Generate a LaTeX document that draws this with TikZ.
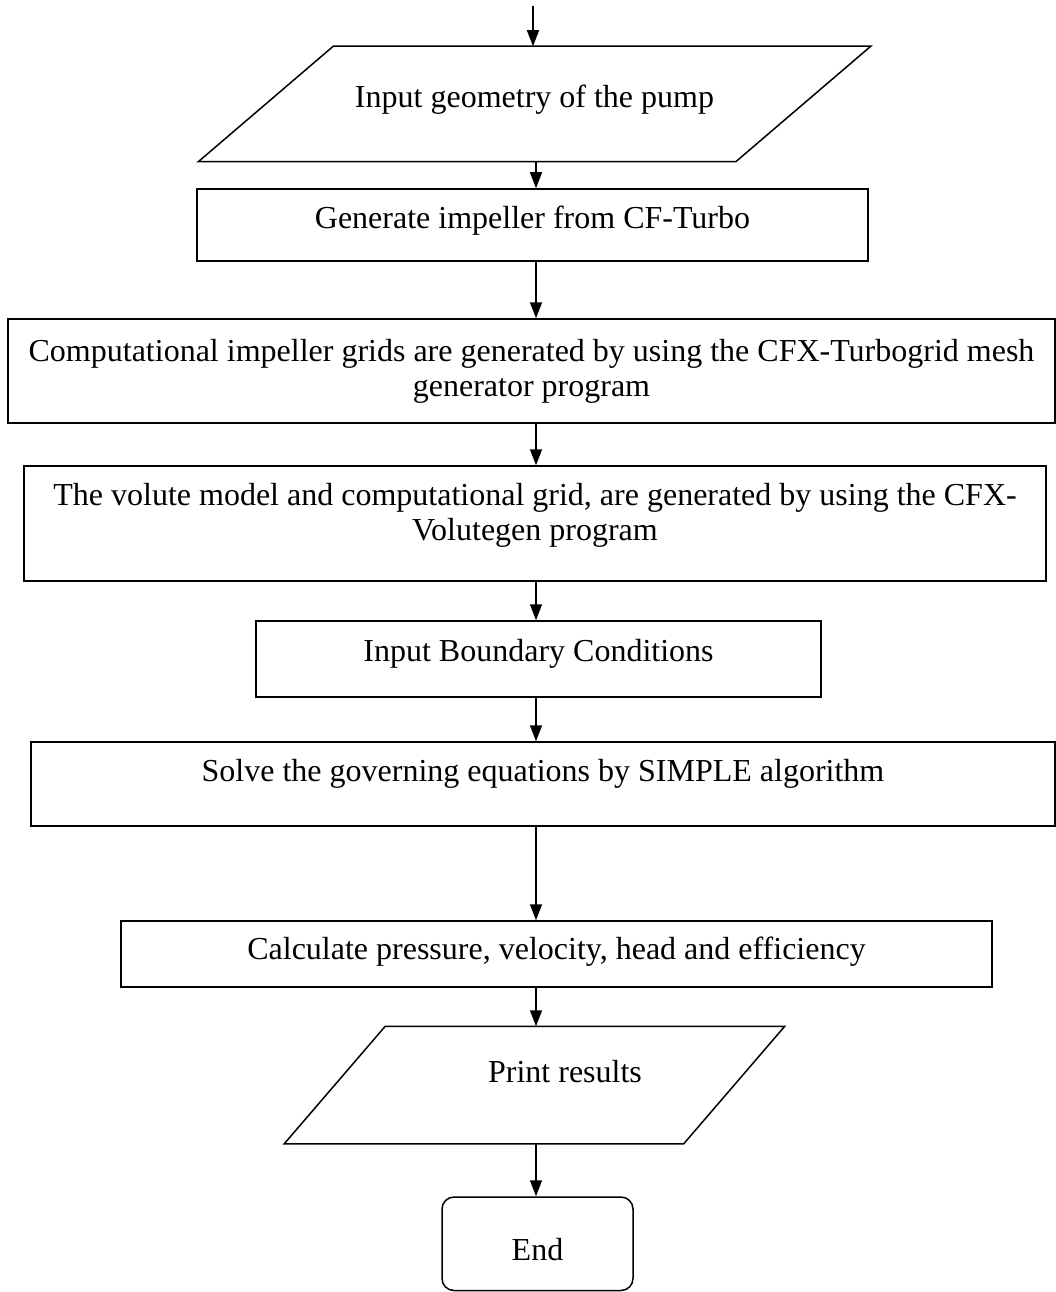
\documentclass[tikz,border=0pt]{standalone}
\usepackage{fontspec}
\setmainfont{Liberation Serif}
\usetikzlibrary{arrows.meta}

\begin{document}
\begin{tikzpicture}[x=1pt,y=-1pt]
  \tikzstyle{procbox}=[
       draw,
       rectangle,
       line width=1.5pt,
       align=center,
       inner sep=0pt,
       text height=22pt,
       font=\fontsize{32}{35}\selectfont]
  \tikzstyle{twoline}=[
       procbox,
       text height={}]
  \tikzstyle{iobox}=[
       procbox,
       draw=none]
  \tikzstyle{endbox}=[
       procbox,
       rounded corners=12pt]
  \tikzstyle{outline}=[line width=1.5pt, line join=miter]
  \tikzstyle{flow}=[line width=1.5pt, -{Triangle[width=12pt,length=16pt]}]
  \useasboundingbox (0,0) rectangle (1056,1292);

  \coordinate (begin) at (533,6);
  \coordinate (spine) at (536,0);

  \node[iobox, minimum width=671pt, minimum height=114pt, text depth=15pt]
       (input) at (534.5,104) {Input geometry of the pump};
  \draw[outline] (input.south west) -- ([xshift=-135pt]input.south east)
       -- (input.north east) -- ([xshift=135pt]input.north west) -- cycle;
  \node[procbox, minimum width=671pt, minimum height=72pt, text depth=15pt]
       (generate) at (532.5,225) {Generate impeller from CF-Turbo};
  \node[twoline, minimum width=1047pt, minimum height=104pt]
       (grids) at (531.5,371)
       {Computational impeller grids are generated by using the CFX-Turbogrid mesh\\generator program};
  \node[twoline, minimum width=1022pt, minimum height=115pt, text depth=24pt]
       (volute) at (535,523.5)
       {The volute model and computational grid, are generated by using the CFX-\\Volutegen program};
  \node[procbox, minimum width=565pt, minimum height=76pt, text depth=17pt]
       (boundary) at (538.5,659) {Input Boundary Conditions};
  \node[procbox, minimum width=1024pt, minimum height=84pt, text depth=27pt]
       (solve) at (543,784) {Solve the governing equations by SIMPLE algorithm};
  \node[procbox, minimum width=871pt, minimum height=66pt, text depth=12pt]
       (calc) at (556.5,954) {Calculate pressure, velocity, head and efficiency};
  \node[iobox, minimum width=560pt, minimum height=116pt, text depth=27pt]
       (print) at (565,1085) {Print results};
  \draw[outline] (print.south west) -- ([xshift=-162pt]print.south east)
       -- ([xshift=-61pt]print.north east) -- ([xshift=101pt]print.north west) -- cycle;
  \node[endbox, minimum width=191pt, minimum height=93.5pt,
        text height=34pt, text depth=0pt]
       (end) at (537.5,1243.75) {End};

  % connectors down the chart
  \draw[flow] (begin) -- (input.north -| begin);
  \draw[flow] (input.south -| spine) -- (generate.north -| spine);
  \draw[flow] (generate.south -| spine) -- (grids.north -| spine);
  \draw[flow] (grids.south -| spine) -- (volute.north -| spine);
  \draw[flow] (volute.south -| spine) -- (boundary.north -| spine);
  \draw[flow] (boundary.south -| spine) -- (solve.north -| spine);
  \draw[flow] (solve.south -| spine) -- (calc.north -| spine);
  \draw[flow] (calc.south -| spine) -- (print.north -| spine);
  \draw[flow] (print.south -| spine) -- (end.north -| spine);
\end{tikzpicture}
\end{document}
